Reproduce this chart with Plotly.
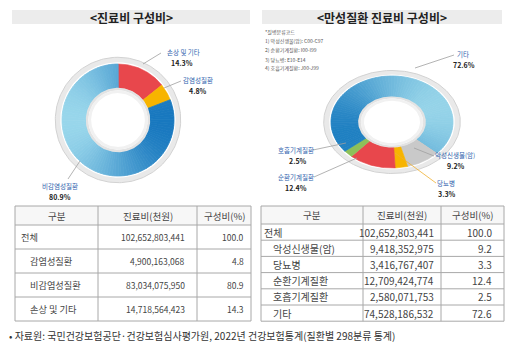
import numpy as np
import plotly.graph_objects as go

W, H = 512, 349
FONT = "Noto Sans CJK KR"

# ---------------- data ----------------
left_title = "&lt;진료비 구성비&gt;"
right_title = "&lt;만성질환 진료비 구성비&gt;"

left_names = ["손상 및 기타", "감염성질환", "비감염성질환"]
left_pcts = [14.3, 4.8, 80.9]
left_colors = ["#e8474c", "#f7b400", "#2c92cd"]

right_names = ["악성신생물(암)", "당뇨병", "순환기계질환", "호흡기계질환", "기타"]
right_pcts = [9.2, 3.3, 12.4, 2.5, 72.6]
right_colors = ["#c9c9c9", "#f7b400", "#e8474c", "#8dc05a", "#3a9dd2"]

notes = ["*질병분류코드", "1) 악성신생물(암): C00-C97", "2) 순환기계질환: I00-I99",
         "3) 당뇨병: E10-E14", "4) 호흡기계질환: J00-J99"]

table_header = ["구분", "진료비(천원)", "구성비(%)"]
left_rows = ["전체", "감염성질환", "비감염성질환", "손상 및 기타"]
left_costs = ["102,652,803,441", "4,900,163,068", "83,034,075,950", "14,718,564,423"]
left_shares = ["100.0", "4.8", "80.9", "14.3"]

right_rows = ["전체", "악성신생물(암)", "당뇨병", "순환기계질환", "호흡기계질환", "기타"]
right_costs = ["102,652,803,441", "9,418,352,975", "3,416,767,407", "12,709,424,774",
               "2,580,071,753", "74,528,186,532"]
right_shares = ["100.0", "9.2", "3.3", "12.4", "2.5", "72.6"]

source = "• 자료원: 국민건강보험공단·건강보험심사평가원, 2022년 건강보험통계(질환별 298분류 통계)"

# ---------------- helpers ----------------
def px(x):
    return x / W

def py(y):
    return 1 - y / H

def hex2rgb(h):
    h = h.lstrip('#')
    return [int(h[i:i + 2], 16) for i in (0, 2, 4)]

def mix(c1, c2, f):
    f = min(max(f, 0), 1)
    a, b = hex2rgb(c1), hex2rgb(c2)
    return 'rgb(%d,%d,%d)' % tuple(round(a[i] + (b[i] - a[i]) * f) for i in range(3))

def sector(a0, a1, r_out, r_in):
    n = max(int(abs(a1 - a0) / 1.5) + 2, 3)
    t = np.radians(np.linspace(a0, a1, n))
    x = np.concatenate([r_out * np.sin(t), r_in * np.sin(t[::-1])])
    y = np.concatenate([r_out * np.cos(t), r_in * np.cos(t[::-1])])
    return np.append(x, x[0]), np.append(y, y[0])

fig = go.Figure()
shapes = []
annotations = []

def add_poly(x, y, color, xa, ya, lw=0.6):
    fig.add_trace(go.Scatter(x=x, y=y, mode='lines', fill='toself', fillcolor=color,
                             line=dict(color=color, width=lw), xaxis=xa, yaxis=ya,
                             hoverinfo='skip', showlegend=False))

def donut(values, colors, names, start, hole, xa, ya, grad):
    x, y = sector(0, 360, 1.12, 1.03)
    add_poly(x, y, '#e9e9e9', xa, ya, 0)
    t = np.radians(np.linspace(0, 360, 241))
    fig.add_trace(go.Scatter(x=1.12 * np.sin(t), y=1.12 * np.cos(t), mode='lines',
                             line=dict(color='#d2d2d2', width=1), xaxis=xa, yaxis=ya,
                             hoverinfo='skip', showlegend=False))
    total = sum(values)
    a = start
    for v, c, n in zip(values, colors, names):
        span = 360 * v / total
        if n in grad:
            light, dark, fn = grad[n]
            edges = list(np.arange(a, a + span, 3.0)) + [a + span]
            for e0, e1 in zip(edges[:-1], edges[1:]):
                m = np.radians((e0 + e1) / 2)
                x, y = sector(e0, e1, 1, hole)
                add_poly(x, y, mix(light, dark, fn(m)), xa, ya, 0.8)
        else:
            x, y = sector(a, a + span, 1, hole)
            add_poly(x, y, c, xa, ya)
        a += span
    x, y = sector(0, 360, hole + 0.005, hole - 0.04)
    add_poly(x, y, '#e3e3e3', xa, ya, 0)
    x, y = sector(0, 360, hole - 0.04, hole - 0.09)
    add_poly(x, y, '#f1f1f1', xa, ya, 0)

donut(left_pcts, left_colors, left_names, 0, 0.57, 'x', 'y',
      {"비감염성질환": ("#98d6eb", "#1878bf", lambda m: (1 + np.sin(m)) / 2)})
donut(right_pcts, right_colors, right_names, 132, 0.55, 'x2', 'y2',
      {"기타": ("#9ad7ea", "#1a7cc0", lambda m: (1 - (0.85 * np.sin(m) + 0.35 * np.cos(m))) / 2)})

LC, LR = (118, 120), 56
RC, RX, RY = (392, 122), 61, 46
S = 1.15
axis_common = dict(visible=False, fixedrange=True, showgrid=False, zeroline=False)
fig.update_layout(
    xaxis=dict(domain=[px(LC[0] - LR * S), px(LC[0] + LR * S)], range=[-S, S], **axis_common),
    yaxis=dict(domain=[py(LC[1] + LR * S), py(LC[1] - LR * S)], range=[-S, S], **axis_common),
    xaxis2=dict(domain=[px(RC[0] - RX * S), px(RC[0] + RX * S)], range=[-S, S], anchor='y2', **axis_common),
    yaxis2=dict(domain=[py(RC[1] + RY * S), py(RC[1] - RY * S)], range=[-S, S], anchor='x2', **axis_common),
)

def text(t, x, y, size, color='#444444', xanchor='center', bold=False):
    annotations.append(dict(text=('<b>%s</b>' % t) if bold else t, x=px(x), y=py(y),
                            xref='paper', yref='paper', xanchor=xanchor, yanchor='middle',
                            showarrow=False, font=dict(family=FONT, size=size, color=color)))

def line(x0, y0, x1, y1, color='#a8a8a8', width=1):
    shapes.append(dict(type='line', xref='paper', yref='paper', x0=px(x0), y0=py(y0),
                       x1=px(x1), y1=py(y1), line=dict(color=color, width=width)))

# ---------------- tables ----------------
def draw_table(x_edges, y_top, header_h, row_h, rows, costs, shares,
               fs_head, fs_name, fs_num, pad_name, indent, pad_cost, pad_share):
    n = len(rows)
    y_edges = [y_top, y_top + header_h] + [y_top + header_h + row_h * (i + 1) for i in range(n)]
    shapes.append(dict(type='rect', xref='paper', yref='paper', x0=px(x_edges[0]), x1=px(x_edges[-1]),
                       y0=py(y_edges[1]), y1=py(y_edges[0]), fillcolor='#f7f7f7',
                       line=dict(width=0), layer='below'))
    for yv in y_edges:
        line(x_edges[0], yv, x_edges[-1], yv)
    for xv in x_edges:
        line(xv, y_edges[0], xv, y_edges[-1])
    for j, h in enumerate(table_header):
        text(h, (x_edges[j] + x_edges[j + 1]) / 2, (y_edges[0] + y_edges[1]) / 2, fs_head)
    for i in range(n):
        yc = (y_edges[i + 1] + y_edges[i + 2]) / 2
        text(rows[i], x_edges[0] + pad_name + (indent if i > 0 else 0), yc, fs_name, xanchor='left')
        text(costs[i], x_edges[2] - pad_cost, yc, fs_num, xanchor='right')
        text(shares[i], x_edges[3] - pad_share, yc, fs_num, xanchor='right')

draw_table([15, 98, 197, 251], 206, 19, 24, left_rows, left_costs, left_shares,
           9.5, 9.2, 8.5, 4, 9, 10, 5)
draw_table([261, 363, 441, 504], 206, 18, 16.2, right_rows, right_costs, right_shares,
           9.5, 10, 10, 1, 9, 5, 10)

# ---------------- titles ----------------
for (x0, x1, title) in [(12, 250, left_title), (262, 502, right_title)]:
    shapes.append(dict(type='rect', xref='paper', yref='paper', x0=px(x0), x1=px(x1),
                       y0=py(24), y1=py(10), fillcolor='#ececec', line=dict(width=0), layer='below'))
    text(title, (x0 + x1) / 2, 17, 12, color='#222222', bold=True)

# ---------------- donut labels ----------------
label_layout = {
    "손상 및 기타": ((183, 52), (182, 63), (161, 53), (143, 64), '#a0a0a0'),
    "감염성질환": ((198, 80), (198, 91), (181, 81), (164, 88), '#a0a0a0'),
    "비감염성질환": ((60, 186), (60, 197), (68, 179), (80, 161), '#a0a0a0'),
    "기타": ((463, 54), (464, 65), (454, 55), (415, 68), '#a0a0a0'),
    "악성신생물(암)": ((455, 155), (456, 166), (434, 156), (414, 148), '#a0a0a0'),
    "당뇨병": ((446, 183), (447, 194), (436, 183), (395, 153), '#f0b030'),
    "호흡기계질환": ((296, 150), (298, 161), (313, 150), (346, 143), '#a0a0a0'),
    "순환기계질환": ((296, 177), (296, 188), (314, 177), (357, 158), '#a0a0a0'),
}
for names, pcts in [(left_names, left_pcts), (right_names, right_pcts)]:
    for n, p in zip(names, pcts):
        nxy, pxy, l0, l1, lc = label_layout[n]
        text(n, nxy[0], nxy[1], 6.5, color='#2f5fae')
        text('%.1f%%' % p, pxy[0], pxy[1], 7, color='#222222', bold=True)
        line(l0[0], l0[1], l1[0], l1[1], color=lc, width=0.8)

for i, t in enumerate(notes):
    text(t, 263, 32 + 9 * i, 5, color='#555555', xanchor='left')

text(source, 7, 335, 10, color='#333333', xanchor='left')

fig.update_layout(width=W, height=H, margin=dict(l=0, r=0, t=0, b=0),
                  paper_bgcolor='white', plot_bgcolor='rgba(0,0,0,0)', showlegend=False,
                  shapes=shapes, annotations=annotations, font=dict(family=FONT))

fig.write_html("out.html")
